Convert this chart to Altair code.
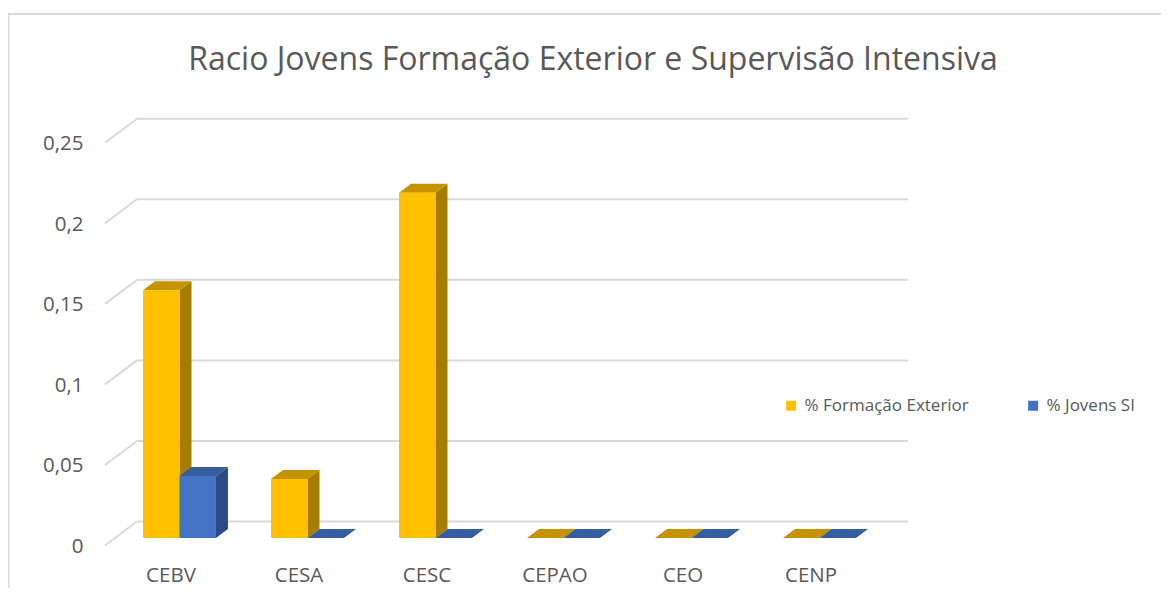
import altair as alt
import pandas as pd

# ---------------- data ----------------
CATEGORIES = ["CEBV", "CESA", "CESC", "CEPAO", "CEO", "CENP"]
SERIES = ["% Formação Exterior", "% Jovens SI"]
FORMACAO_EXTERIOR = [0.1538, 0.0367, 0.2143, 0.0, 0.0, 0.0]
JOVENS_SI = [0.0385, 0.0, 0.0, 0.0, 0.0, 0.0]
TICK_VALUES = [0, 0.05, 0.1, 0.15, 0.2, 0.25]
TICK_LABELS = ["0", "0,05", "0,1", "0,15", "0,2", "0,25"]
TITLE = "Racio Jovens Formação Exterior e Supervisão Intensiva"

# ---------------- styles ----------------
FRONT = ["#FFC000", "#4472C4"]
TOP = ["#C69300", "#355D9F"]
SIDE = ["#A67C00", "#2C4B82"]
GRID = "#D9D9D9"
TEXT = "#595959"
FONT = "Open Sans"

# ---------------- layout (pixels) ----------------
PLOT_W, PLOT_H = 1153, 575
X_ORIGIN, PX_PER_CAT = 106.5, 128.0      # category slot 0 (bar-front depth)
Y_ORIGIN, PX_PER_UNIT = 525.0, 1611.0    # value 0 (bar-front depth)
GAP, BAR_W = 0.2227, 0.285               # in category units
BAR_DX, BAR_DY = 12.0, 9.0               # depth of a bar (px)
WALL_DX, WALL_DY = 22.5, 16.5            # back wall offset (px)
FLOOR_DX, FLOOR_DY = -9.5, 7.5           # front edge offset (px)
WALL_EXTRA = 3.0

ux = lambda px: px / PX_PER_CAT
uy = lambda px: px / PX_PER_UNIT

XS = alt.Scale(domain=[-X_ORIGIN / PX_PER_CAT, (PLOT_W - X_ORIGIN) / PX_PER_CAT],
               nice=False, zero=False)
YS = alt.Scale(domain=[(Y_ORIGIN - PLOT_H) / PX_PER_UNIT, Y_ORIGIN / PX_PER_UNIT],
               nice=False, zero=False)

values = [FORMACAO_EXTERIOR, JOVENS_SI]

front_rows, side_rows, top_rows = [], [], []
for s, name in enumerate(SERIES):
    for i, cat in enumerate(CATEGORIES):
        v = values[s][i]
        x0 = i + GAP + s * BAR_W
        x1 = x0 + BAR_W
        bid = f"{s}-{i}"
        front_rows.append({"series": name, "cat": cat, "x0": x0, "x1": x1, "v": v, "base": 0.0})
        side_rows += [
            {"series": name, "bar": bid, "x": x1, "lo": 0.0, "hi": v},
            {"series": name, "bar": bid, "x": x1 + ux(BAR_DX), "lo": uy(BAR_DY), "hi": v + uy(BAR_DY)},
        ]
        top_rows += [
            {"series": name, "bar": bid, "y": v, "xl": x0, "xr": x1},
            {"series": name, "bar": bid, "y": v + uy(BAR_DY), "xl": x0 + ux(BAR_DX), "xr": x1 + ux(BAR_DX)},
        ]
front_df = pd.DataFrame(front_rows)
side_df = pd.DataFrame(side_rows)
top_df = pd.DataFrame(top_rows)

n = len(CATEGORIES)
grid_df = pd.DataFrame({
    "fx": [ux(FLOOR_DX)] * len(TICK_VALUES),
    "wx0": [ux(WALL_DX)] * len(TICK_VALUES),
    "wx1": [n + ux(WALL_DX + WALL_EXTRA)] * len(TICK_VALUES),
    "fy": [t - uy(FLOOR_DY) for t in TICK_VALUES],
    "wy": [t + uy(WALL_DY) for t in TICK_VALUES],
})
ylab_df = pd.DataFrame({
    "x": [ux(-31)] * len(TICK_VALUES),
    "y": [t - uy(FLOOR_DY + 1.5) for t in TICK_VALUES],
    "label": TICK_LABELS,
})
xlab_df = pd.DataFrame({
    "x": [i + ux(56.5) for i in range(n)],
    "y": [uy(-38)] * n,
    "label": CATEGORIES,
})

# ---------------- layers ----------------
border = alt.Chart(alt.Data(values=[{}])).mark_rule(color=GRID, strokeWidth=2)
border_top = border.encode(x=alt.value(0), x2=alt.value(PLOT_W), y=alt.value(1))
border_left = border.encode(x=alt.value(0.5), y=alt.value(0), y2=alt.value(PLOT_H))

wall = alt.Chart(grid_df).mark_rule(color=GRID, strokeWidth=2).encode(
    x=alt.X("wx0:Q", scale=XS, axis=None), x2="wx1:Q",
    y=alt.Y("wy:Q", scale=YS, axis=None))
diag = alt.Chart(grid_df).mark_rule(color=GRID, strokeWidth=2).encode(
    x=alt.X("fx:Q", scale=XS, axis=None), x2="wx0:Q",
    y=alt.Y("fy:Q", scale=YS, axis=None), y2="wy:Q")

ylabels = alt.Chart(ylab_df).mark_text(align="right", baseline="middle", font=FONT,
                                       fontSize=20.5, color=TEXT).encode(
    x=alt.X("x:Q", scale=XS, axis=None), y=alt.Y("y:Q", scale=YS, axis=None), text="label:N")
xlabels = alt.Chart(xlab_df).mark_text(align="center", baseline="middle", font=FONT,
                                       fontSize=20.5, color=TEXT).encode(
    x=alt.X("x:Q", scale=XS, axis=None), y=alt.Y("y:Q", scale=YS, axis=None), text="label:N")

bar_layers = []
for s, name in enumerate(SERIES):
    side = alt.Chart(side_df).transform_filter(alt.datum.series == name).mark_area(
        color=SIDE[s], interpolate="linear", strokeWidth=0).encode(
        x=alt.X("x:Q", scale=XS, axis=None),
        y=alt.Y("lo:Q", scale=YS, axis=None, stack=None), y2="hi:Q",
        detail="bar:N")
    top = alt.Chart(top_df).transform_filter(alt.datum.series == name).mark_area(
        color=TOP[s], interpolate="linear", orient="horizontal", strokeWidth=0).encode(
        y=alt.Y("y:Q", scale=YS, axis=None),
        x=alt.X("xl:Q", scale=XS, axis=None, stack=None), x2="xr:Q",
        detail="bar:N")
    front = alt.Chart(front_df).transform_filter(alt.datum.series == name).mark_rect().encode(
        x=alt.X("x0:Q", scale=XS, axis=None), x2="x1:Q",
        y=alt.Y("v:Q", scale=YS, axis=None), y2="base:Q",
        color=alt.Color("series:N",
                        scale=alt.Scale(domain=SERIES, range=FRONT),
                        legend=alt.Legend(orient="none", legendX=774.6, legendY=384,
                                          direction="horizontal", title=None,
                                          symbolType="square", symbolSize=100,
                                          symbolStrokeWidth=0, labelFont=FONT,
                                          labelFontSize=17, labelColor=TEXT,
                                          labelLimit=400,
                                          labelOffset=5, columnPadding=55, padding=0)))
    bar_layers += [side, top, front]

chart = alt.layer(border_top, border_left, wall, diag, ylabels, xlabels, *bar_layers).properties(
    width=PLOT_W, height=PLOT_H,
    title=alt.TitleParams(TITLE, font=FONT, fontSize=32, fontWeight="normal", color=TEXT,
                          anchor="middle", frame="group", orient="top", offset=-35,
                          baseline="alphabetic", dx=8.5, dy=55),
    autosize=alt.AutoSizeParams(type="none"),
    padding={"left": 0, "top": 5, "right": 0, "bottom": 0},
    background="white",
).configure_view(stroke=None)

chart.save("out.html", embed_options={"renderer": "svg", "actions": False})
